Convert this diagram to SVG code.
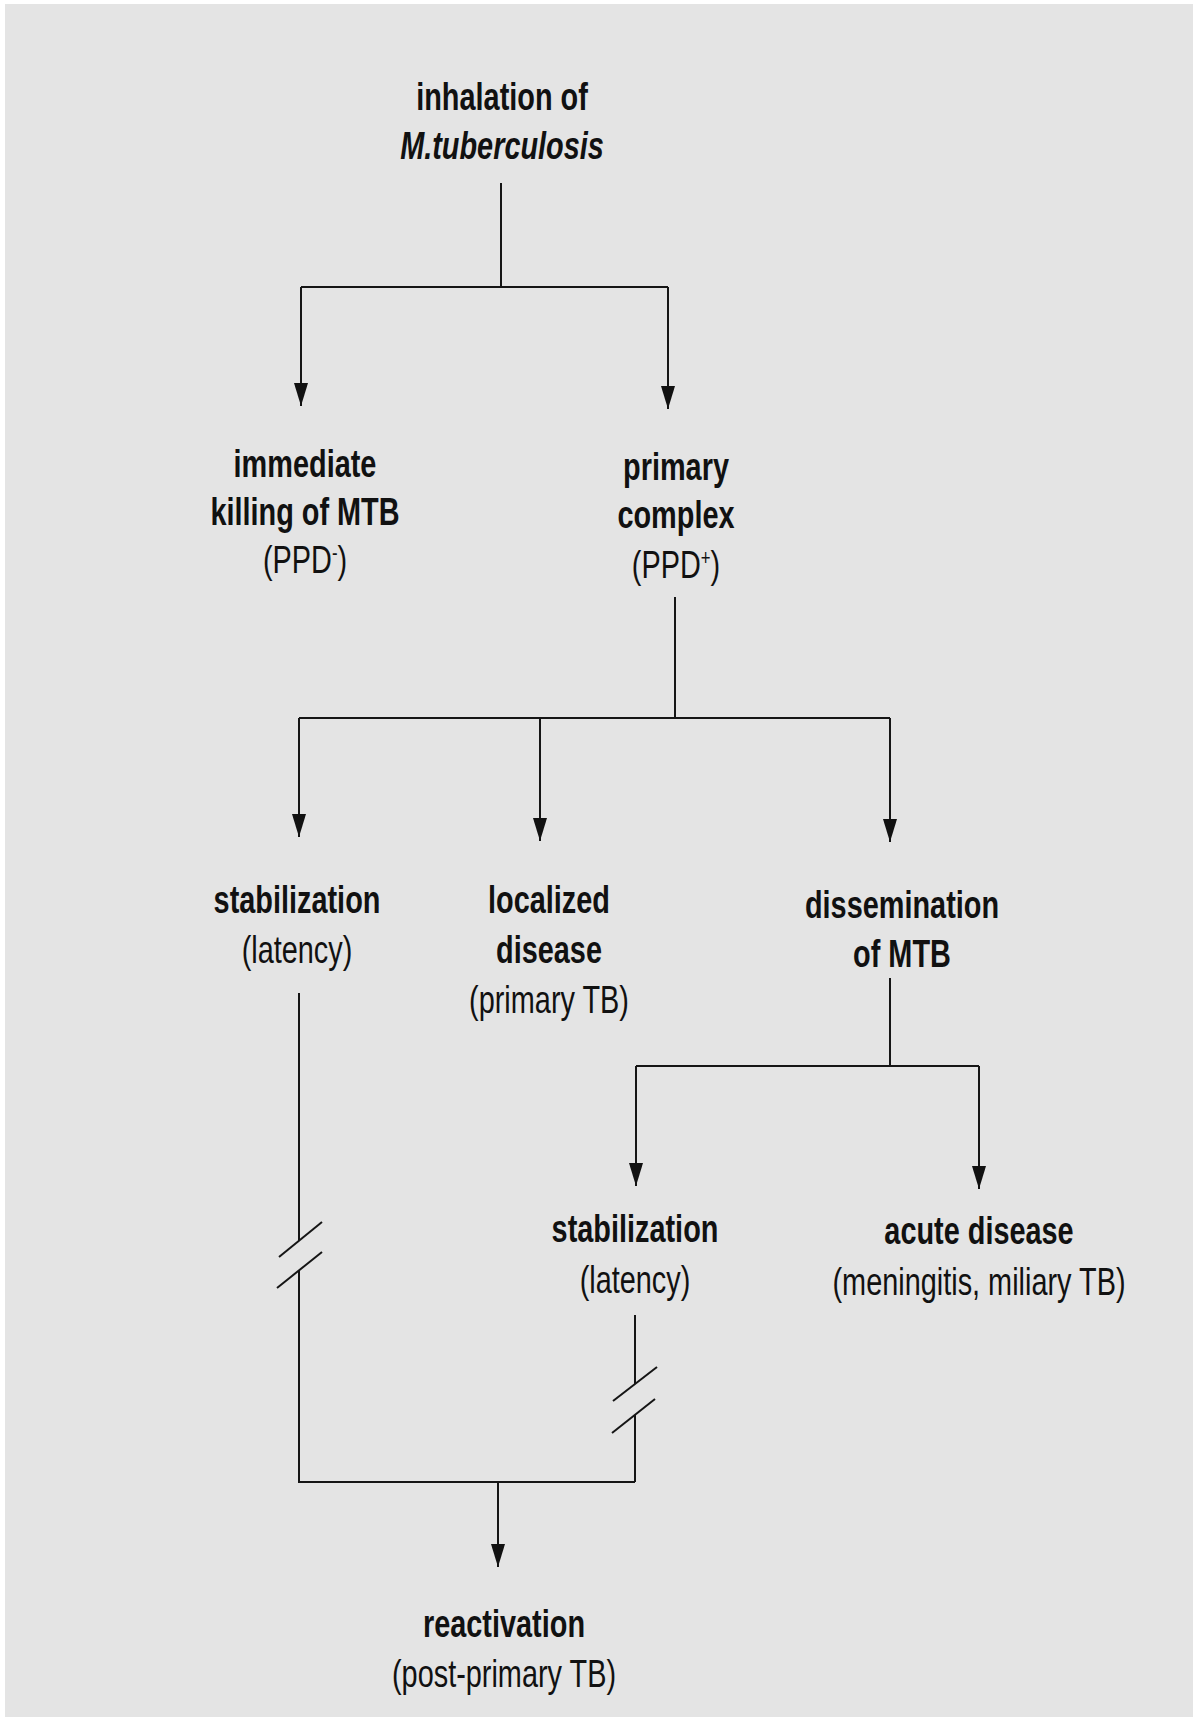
<svg xmlns="http://www.w3.org/2000/svg" width="1193" height="1717" viewBox="0 0 1193 1717">
<style>
  text { font-family: "Liberation Sans", Arial, sans-serif; font-size: 38px; fill: #111; text-anchor: middle; }
  .b { font-weight: bold; }
  .bi { font-weight: bold; font-style: italic; }
  .sup { font-size: 22px; }
  .ln { stroke: #151515; stroke-width: 2; fill: none; }
  .ar { stroke: #151515; stroke-width: 2; fill: none; marker-end: url(#ah); }
</style>
<defs>
  <marker id="ah" markerUnits="userSpaceOnUse" markerWidth="24" markerHeight="16" refX="23" refY="8" orient="auto" viewBox="0 0 24 16">
    <path d="M0,1 L0,15 L23,8 Z" fill="#111"/>
  </marker>
</defs>
<rect x="0" y="0" width="1193" height="1717" fill="#ffffff"/>
<rect x="5" y="4" width="1188" height="1713" fill="#e4e4e4"/>

<g id="connectors">
  <path class="ln" d="M501,183 V287"/>
  <path class="ln" d="M301,287 H668"/>
  <path class="ar" d="M301,287 V406"/>
  <path class="ar" d="M668,287 V409"/>

  <path class="ln" d="M675,597 V718"/>
  <path class="ln" d="M299,718 H890"/>
  <path class="ar" d="M299,718 V837"/>
  <path class="ar" d="M540,718 V841"/>
  <path class="ar" d="M890,718 V842"/>

  <path class="ln" d="M890,978 V1066"/>
  <path class="ln" d="M636,1066 H979"/>
  <path class="ar" d="M636,1066 V1186"/>
  <path class="ar" d="M979,1066 V1189"/>

  <path class="ln" d="M299,993 V1241"/>
  <path class="ln" d="M279,1257 L322,1222"/>
  <path class="ln" d="M277,1288 L322,1252"/>
  <path class="ln" d="M299,1270 V1482 H635"/>

  <path class="ln" d="M635,1315 V1384"/>
  <path class="ln" d="M613,1401 L657,1367"/>
  <path class="ln" d="M612,1433 L655,1399"/>
  <path class="ln" d="M635,1415 V1482"/>

  <path class="ar" d="M498,1482 V1567"/>
</g>

<g id="n-inhalation">
  <text class="b" transform="translate(502,110) scale(0.76,1)">inhalation of</text>
  <text class="bi" transform="translate(502,159) scale(0.76,1)">M.tuberculosis</text>
</g>

<g id="n-immediate-killing">
  <text class="b" transform="translate(305,477) scale(0.76,1)">immediate</text>
  <text class="b" transform="translate(305,525) scale(0.76,1)">killing of MTB</text>
  <text transform="translate(305,573) scale(0.76,1)">(PPD<tspan class="sup" dy="-13">-</tspan><tspan dy="13">)</tspan></text>
</g>

<g id="n-primary-complex">
  <text class="b" transform="translate(676,480) scale(0.76,1)">primary</text>
  <text class="b" transform="translate(676,528) scale(0.76,1)">complex</text>
  <text transform="translate(676,578) scale(0.76,1)">(PPD<tspan class="sup" dy="-13">+</tspan><tspan dy="13">)</tspan></text>
</g>

<g id="n-stabilization-1">
  <text class="b" transform="translate(297,913) scale(0.76,1)">stabilization</text>
  <text transform="translate(297,963) scale(0.76,1)">(latency)</text>
</g>

<g id="n-localized">
  <text class="b" transform="translate(549,913) scale(0.76,1)">localized</text>
  <text class="b" transform="translate(549,963) scale(0.76,1)">disease</text>
  <text transform="translate(549,1013) scale(0.76,1)">(primary TB)</text>
</g>

<g id="n-dissemination">
  <text class="b" transform="translate(902,918) scale(0.76,1)">dissemination</text>
  <text class="b" transform="translate(902,967) scale(0.76,1)">of MTB</text>
</g>

<g id="n-stabilization-2">
  <text class="b" transform="translate(635,1242) scale(0.76,1)">stabilization</text>
  <text transform="translate(635,1293) scale(0.76,1)">(latency)</text>
</g>

<g id="n-acute">
  <text class="b" transform="translate(979,1244) scale(0.76,1)">acute disease</text>
  <text transform="translate(979,1295) scale(0.76,1)">(meningitis, miliary TB)</text>
</g>

<g id="n-reactivation">
  <text class="b" transform="translate(504,1637) scale(0.76,1)">reactivation</text>
  <text transform="translate(504,1687) scale(0.76,1)">(post-primary TB)</text>
</g>
</svg>
